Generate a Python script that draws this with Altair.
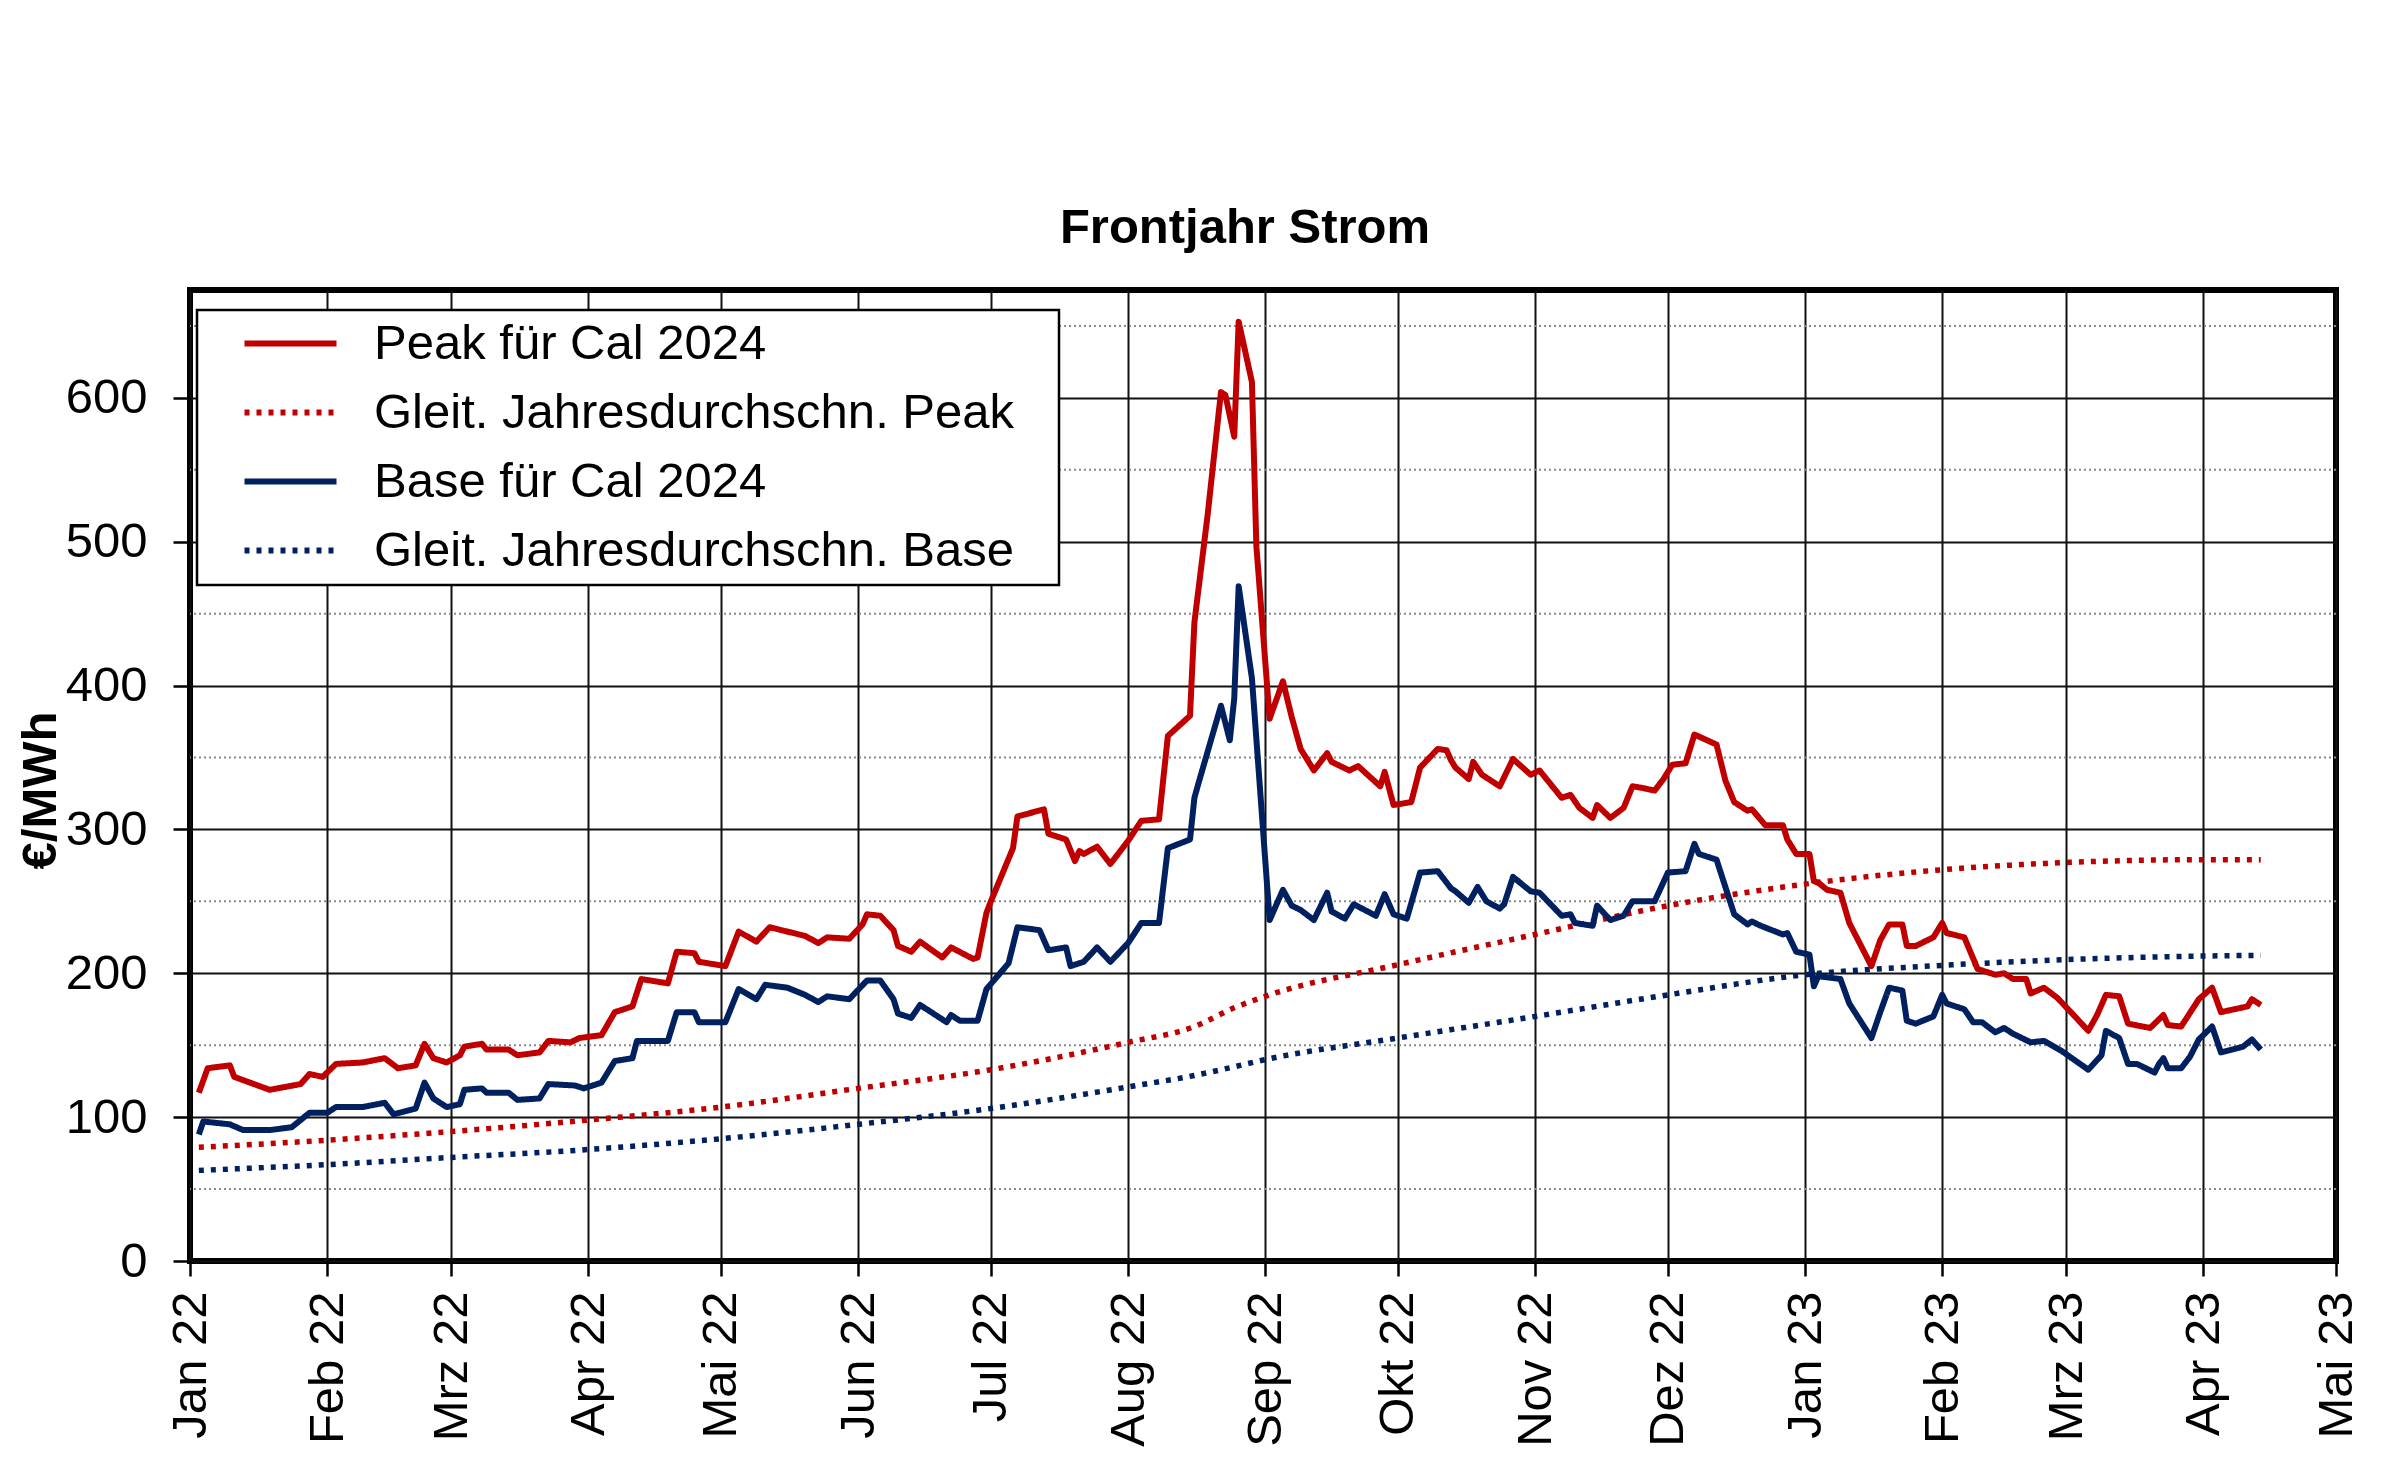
import altair as alt
import pandas as pd

FONT = "Liberation Sans"

series_names = ["Peak für Cal 2024", "Gleit. Jahresdurchschn. Peak",
                "Base für Cal 2024", "Gleit. Jahresdurchschn. Base"]
series_colors = ["#C00000", "#C00000", "#002060", "#002060"]
series_dash = [[1, 0], [5, 7], [1, 0], [5, 7]]

month_names = ["Jan", "Feb", "Mrz", "Apr", "Mai", "Jun", "Jul", "Aug", "Sep", "Okt", "Nov", "Dez"]
y_ticks = [0, 100, 200, 300, 400, 500, 600]
y_minor = [50, 150, 250, 350, 450, 550, 650]

peak_dates = [
    "2022-01-03", "2022-01-05", "2022-01-10", "2022-01-11", "2022-01-19", "2022-01-26", "2022-01-28", "2022-01-31",
    "2022-02-03", "2022-02-09", "2022-02-14", "2022-02-17", "2022-02-21", "2022-02-23", "2022-02-25", "2022-02-28",
    "2022-03-03", "2022-03-04", "2022-03-08", "2022-03-09", "2022-03-14", "2022-03-16", "2022-03-21", "2022-03-23", "2022-03-28", "2022-03-30",
    "2022-04-04", "2022-04-07", "2022-04-11", "2022-04-13", "2022-04-19", "2022-04-21", "2022-04-25", "2022-04-26",
    "2022-05-02", "2022-05-05", "2022-05-09", "2022-05-12", "2022-05-16", "2022-05-20", "2022-05-23", "2022-05-25", "2022-05-30",
    "2022-06-02", "2022-06-03", "2022-06-06", "2022-06-09", "2022-06-10", "2022-06-13", "2022-06-15", "2022-06-20", "2022-06-22", "2022-06-27", "2022-06-28", "2022-06-30",
    "2022-07-01", "2022-07-06", "2022-07-07", "2022-07-13", "2022-07-14", "2022-07-18", "2022-07-20", "2022-07-21", "2022-07-22", "2022-07-25", "2022-07-28",
    "2022-08-01", "2022-08-04", "2022-08-08", "2022-08-10", "2022-08-15", "2022-08-16", "2022-08-19", "2022-08-22", "2022-08-23", "2022-08-25", "2022-08-26", "2022-08-29", "2022-08-30",
    "2022-09-02", "2022-09-05", "2022-09-07", "2022-09-09", "2022-09-12", "2022-09-15", "2022-09-16", "2022-09-20", "2022-09-22", "2022-09-27", "2022-09-28", "2022-09-30",
    "2022-10-04", "2022-10-06", "2022-10-10", "2022-10-12", "2022-10-13", "2022-10-14", "2022-10-17", "2022-10-18", "2022-10-20", "2022-10-24", "2022-10-27", "2022-10-31",
    "2022-11-02", "2022-11-07", "2022-11-09", "2022-11-11", "2022-11-14", "2022-11-15", "2022-11-18", "2022-11-21", "2022-11-23", "2022-11-25", "2022-11-28", "2022-11-30",
    "2022-12-02", "2022-12-05", "2022-12-07", "2022-12-12", "2022-12-14", "2022-12-16", "2022-12-19", "2022-12-20", "2022-12-23", "2022-12-27", "2022-12-28", "2022-12-30",
    "2023-01-02", "2023-01-03", "2023-01-04", "2023-01-06", "2023-01-09", "2023-01-11", "2023-01-16", "2023-01-18", "2023-01-20", "2023-01-23", "2023-01-24", "2023-01-26", "2023-01-30",
    "2023-02-01", "2023-02-02", "2023-02-06", "2023-02-09", "2023-02-13", "2023-02-15", "2023-02-17", "2023-02-20", "2023-02-21", "2023-02-24", "2023-02-27",
    "2023-03-03", "2023-03-06", "2023-03-08", "2023-03-10", "2023-03-13", "2023-03-15", "2023-03-20", "2023-03-23", "2023-03-24", "2023-03-27", "2023-03-31",
    "2023-04-03", "2023-04-05", "2023-04-11", "2023-04-12", "2023-04-14",
]
peak_values = [
    117, 134, 136, 128, 119, 123, 130, 128,
    137, 138, 141, 134, 136, 151, 141, 138,
    143, 149, 151, 147, 147, 143, 145, 153, 152, 155,
    157, 173, 177, 196, 193, 215, 214, 208,
    205, 229, 222, 232, 229, 226, 221, 225, 224,
    234, 241, 240, 230, 219, 215, 222, 211, 218, 210, 211, 242,
    250, 287, 309, 314, 297, 293, 278, 285, 283, 288, 276,
    292, 306, 307, 365, 379, 444, 519, 604, 602, 573, 653, 611, 497,
    377, 403, 378, 356, 341, 353, 347, 341, 344, 330, 340, 317,
    319, 343, 356, 355, 348, 343, 335, 347, 338, 330, 349, 338,
    341, 322, 324, 315, 308, 317, 308, 315, 330, 329, 327, 335,
    345, 346, 366, 359, 334, 319, 313, 314, 303, 303, 293, 283,
    283, 264, 263, 258, 256, 235, 205, 223, 234, 234, 219, 219, 225,
    235, 228, 225, 203, 199, 200, 196, 196, 186, 190, 183,
    170, 160, 171, 185, 184, 165, 162, 171, 164, 163, 182,
    190, 173, 177, 182, 178,
]

base_dates = [
    "2022-01-03", "2022-01-04", "2022-01-10", "2022-01-13", "2022-01-19", "2022-01-24", "2022-01-28",
    "2022-02-01", "2022-02-03", "2022-02-09", "2022-02-14", "2022-02-16", "2022-02-21", "2022-02-23", "2022-02-25", "2022-02-28",
    "2022-03-03", "2022-03-04", "2022-03-08", "2022-03-09", "2022-03-14", "2022-03-16", "2022-03-21", "2022-03-23", "2022-03-29", "2022-03-31",
    "2022-04-04", "2022-04-07", "2022-04-11", "2022-04-12", "2022-04-19", "2022-04-21", "2022-04-25", "2022-04-26",
    "2022-05-02", "2022-05-05", "2022-05-09", "2022-05-11", "2022-05-16", "2022-05-20", "2022-05-23", "2022-05-25", "2022-05-30",
    "2022-06-03", "2022-06-06", "2022-06-09", "2022-06-10", "2022-06-13", "2022-06-15", "2022-06-21", "2022-06-22", "2022-06-24", "2022-06-28", "2022-06-30",
    "2022-07-05", "2022-07-07", "2022-07-12", "2022-07-14", "2022-07-18", "2022-07-19", "2022-07-22", "2022-07-25", "2022-07-28",
    "2022-08-01", "2022-08-04", "2022-08-08", "2022-08-10", "2022-08-15", "2022-08-16", "2022-08-17", "2022-08-22", "2022-08-24", "2022-08-25", "2022-08-26", "2022-08-29",
    "2022-09-02", "2022-09-05", "2022-09-07", "2022-09-09", "2022-09-12", "2022-09-15", "2022-09-16", "2022-09-19", "2022-09-21", "2022-09-26", "2022-09-28", "2022-09-30",
    "2022-10-03", "2022-10-06", "2022-10-10", "2022-10-13", "2022-10-14", "2022-10-17", "2022-10-19", "2022-10-21", "2022-10-24", "2022-10-25", "2022-10-27", "2022-10-31",
    "2022-11-02", "2022-11-07", "2022-11-09", "2022-11-10", "2022-11-14", "2022-11-15", "2022-11-18", "2022-11-21", "2022-11-23", "2022-11-28",
    "2022-12-01", "2022-12-05", "2022-12-07", "2022-12-08", "2022-12-12", "2022-12-14", "2022-12-16", "2022-12-19", "2022-12-20", "2022-12-22", "2022-12-27", "2022-12-28", "2022-12-30",
    "2023-01-02", "2023-01-03", "2023-01-04", "2023-01-09", "2023-01-11", "2023-01-16", "2023-01-18", "2023-01-20", "2023-01-23", "2023-01-24", "2023-01-26", "2023-01-30",
    "2023-02-01", "2023-02-02", "2023-02-06", "2023-02-08", "2023-02-10", "2023-02-13", "2023-02-15", "2023-02-17", "2023-02-21", "2023-02-24", "2023-02-28",
    "2023-03-06", "2023-03-09", "2023-03-10", "2023-03-13", "2023-03-15", "2023-03-17", "2023-03-21", "2023-03-22", "2023-03-23", "2023-03-24", "2023-03-27", "2023-03-29", "2023-03-31",
    "2023-04-03", "2023-04-05", "2023-04-10", "2023-04-12", "2023-04-14",
]
base_values = [
    88, 97, 95, 91, 91, 93, 103,
    103, 107, 107, 110, 102, 106, 124, 113, 107,
    109, 119, 120, 117, 117, 112, 113, 123, 122, 120,
    124, 139, 141, 153, 153, 173, 173, 166,
    166, 189, 182, 192, 190, 185, 180, 184, 182,
    195, 195, 182, 172, 169, 178, 166, 171, 167, 167, 189,
    207, 232, 230, 216, 218, 205, 208, 218, 208,
    221, 235, 235, 287, 293, 322, 333, 386, 362, 391, 469, 405,
    237, 258, 247, 244, 237, 256, 243, 238, 248, 240, 255, 241,
    238, 270, 271, 259, 257, 249, 260, 250, 245, 248, 267, 257,
    256, 240, 241, 235, 233, 247, 237, 240, 250, 250,
    270, 271, 290, 283, 279, 260, 241, 234, 236, 233, 227, 228, 215,
    213, 191, 198, 196, 179, 155, 173, 190, 188, 167, 165, 170,
    185, 179, 175, 166, 166, 159, 162, 158, 152, 153, 146,
    133, 143, 160, 155, 137, 137, 131, 137, 141, 134, 134, 142, 154,
    163, 145, 149, 154, 147,
]

avg_dates = ["2022-01-03", "2022-02-01", "2022-03-01", "2022-04-01", "2022-05-01", "2022-06-01",
             "2022-07-01", "2022-08-01", "2022-08-16", "2022-08-25", "2022-09-01", "2022-10-01",
             "2022-11-01", "2022-12-01", "2023-01-01", "2023-02-01", "2023-03-01", "2023-04-01",
             "2023-04-14"]
peak_avg_values = [79, 84, 90, 98, 107, 120, 133, 152, 163, 176, 184, 206, 227, 247, 262, 272, 277, 279, 279]
base_avg_values = [63, 67, 72, 77.5, 85, 95, 106, 121, 129, 135, 140, 155, 170, 185, 199, 205.5, 209.5, 212, 212.5]

assert len(peak_dates) == len(peak_values)
assert len(base_dates) == len(base_values)

raw = pd.concat([
    pd.DataFrame({"Datum": peak_dates, "Wert": peak_values, "Reihe": series_names[0]}),
    pd.DataFrame({"Datum": base_dates, "Wert": base_values, "Reihe": series_names[2]}),
])
avg = pd.concat([
    pd.DataFrame({"Datum": avg_dates, "Wert": peak_avg_values, "Reihe": series_names[1]}),
    pd.DataFrame({"Datum": avg_dates, "Wert": base_avg_values, "Reihe": series_names[3]}),
])
minor = pd.DataFrame({"Wert": y_minor})

month_ticks = [alt.DateTime(year=2022 + (i // 12), month=(i % 12) + 1, date=1, utc=True) for i in range(17)]
month_js = "[" + ",".join("'%s'" % m for m in month_names) + "]"

x_enc = alt.X(
    "Datum:T",
    scale=alt.Scale(type="utc", domain=[alt.DateTime(year=2022, month=1, date=1, utc=True),
                                        alt.DateTime(year=2023, month=5, date=1, utc=True)]),
    axis=alt.Axis(values=month_ticks, title=None, grid=True, labelAngle=270,
                  labelAlign="right", labelBaseline="middle",
                  labelExpr=month_js + "[utcmonth(datum.value)] + ' ' + utcFormat(datum.value, '%y')",
                  tickSize=15, labelPadding=15, labelFlush=False, labelOverlap=False),
)
y_enc = alt.Y(
    "Wert:Q",
    scale=alt.Scale(domain=[0, 675], nice=False, zero=True),
    axis=alt.Axis(values=y_ticks, title="€/MWh", grid=True, tickSize=17, labelPadding=26,
                  labelFlush=False, titlePadding=0, titleY=500),
)

legend = alt.Legend(
    title=" ", titleOrient="right", titleFontSize=1, titlePadding=36,
    orient="none", legendX=7, legendY=20,
    symbolType="M-2.3,0H2.3", symbolSize=1600, symbolStrokeWidth=6, symbolOffset=60,
    labelFontSize=49, labelFont=FONT, labelColor="black", labelOffset=59, labelLimit=1200,
    rowPadding=19, padding=9, fillColor="white", strokeColor="black",
)
color_enc = alt.Color("Reihe:N", scale=alt.Scale(domain=series_names, range=series_colors), legend=legend)
dash_enc = alt.StrokeDash("Reihe:N", scale=alt.Scale(domain=series_names, range=series_dash), legend=legend)

minor_layer = alt.Chart(minor).mark_rule(color="#8a8a8a", strokeDash=[2, 3], strokeWidth=2).encode(y=y_enc)

avg_layer = alt.Chart(avg).mark_line(strokeWidth=5.5, interpolate="monotone").encode(
    x=x_enc, y=y_enc, color=color_enc, strokeDash=dash_enc
)
raw_layer = alt.Chart(raw).mark_line(strokeWidth=6, strokeJoin="round").encode(
    x=x_enc, y=y_enc, color=color_enc, strokeDash=dash_enc
)

chart = alt.layer(minor_layer, avg_layer, raw_layer).properties(
    width=2146, height=971,
    autosize=alt.AutoSizeParams(type="none"),
    padding={"left": 182, "top": 282, "right": 56, "bottom": 205},
    title=alt.TitleParams("Frontjahr Strom", font=FONT, fontSize=49, fontWeight="bold",
                          color="black", offset=36, dy=48, dx=-18, baseline="bottom", anchor="middle"),
).configure_view(
    stroke="black", strokeWidth=6
).configure_axis(
    gridColor="#111111", gridWidth=2, gridOpacity=1, tickColor="black", tickWidth=2.5,
    labelColor="black", labelFont=FONT, labelFontSize=49,
    titleFont=FONT, titleFontSize=49, titleFontWeight="bold", titleColor="black",
    domain=False,
).configure_legend(
    strokeWidth=2.5
)

chart.save("out.html", embed_options={"renderer": "svg", "actions": False})
